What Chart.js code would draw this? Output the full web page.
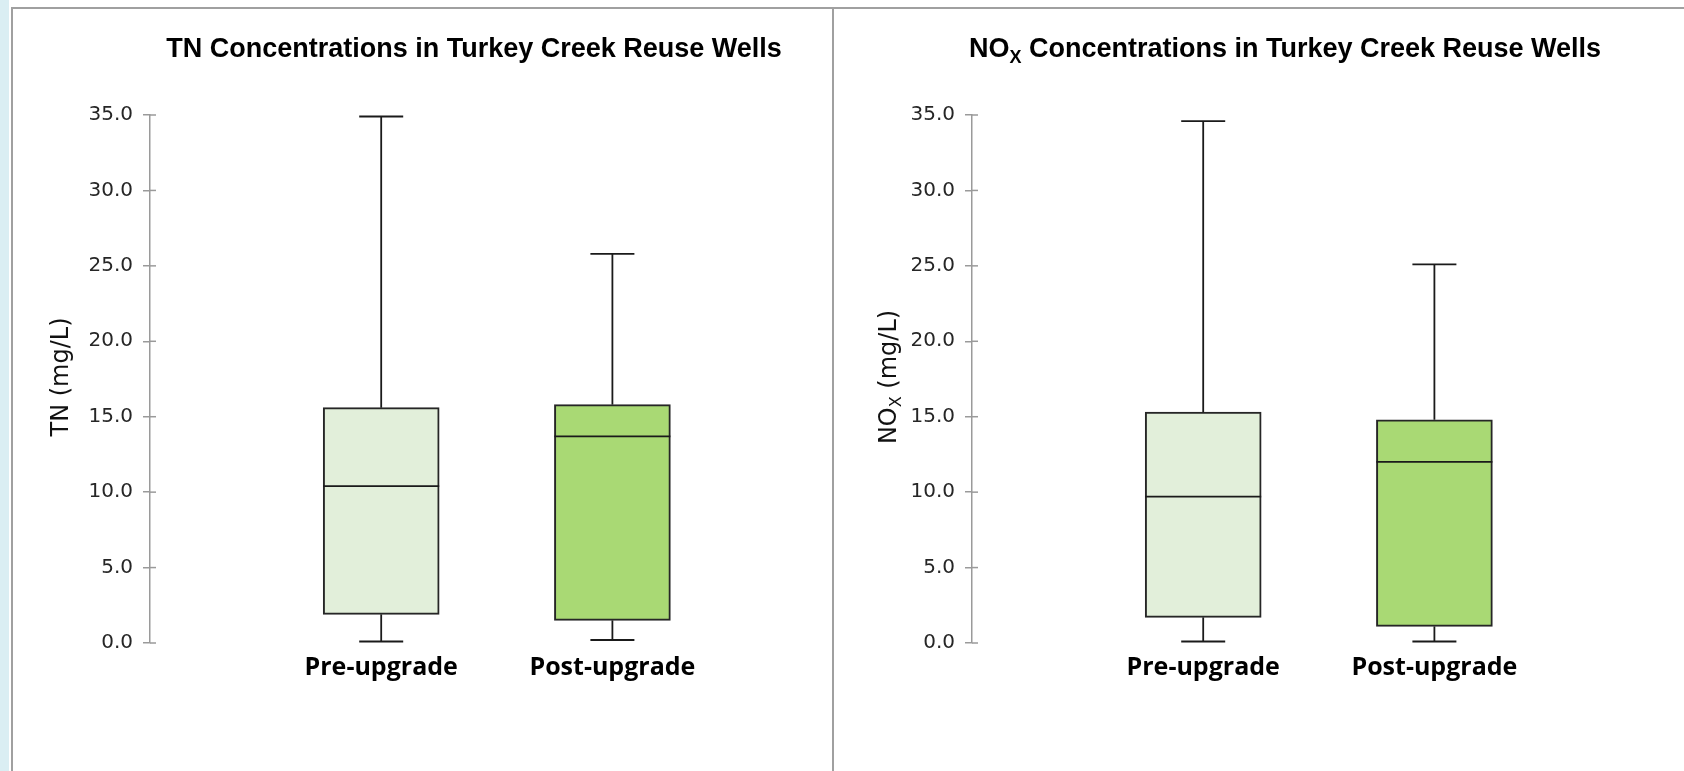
<!DOCTYPE html>
<html>
<head>
<meta charset="utf-8">
<script src="https://cdn.jsdelivr.net/npm/chart.js@4.4.0/dist/chart.umd.min.js"></script>
<style>
  html, body { margin: 0; padding: 0; background: #fff; }
  body { width: 1684px; height: 771px; position: relative; overflow: hidden; }
  #strip { position: absolute; left: 0; top: 0; width: 9px; height: 771px; background: #daeef3; }
  #frame { position: absolute; left: 11px; top: 7px; width: 1673px; height: 764px; border-top: 2px solid #a0a0a0; border-left: 2px solid #a0a0a0; }
  #divider { position: absolute; left: 832px; top: 7px; width: 2px; height: 764px; background: #a0a0a0; }
  .panel { position: absolute; top: 9px; height: 762px; }
  #leftPanel { left: 13px; width: 819px; }
  #rightPanel { left: 834px; width: 850px; }
</style>
</head>
<body>
<div id="strip"></div>
<div id="frame"></div>
<div id="divider"></div>
<div class="panel" id="leftPanel"><canvas id="tnChart"></canvas></div>
<div class="panel" id="rightPanel"><canvas id="noxChart"></canvas></div>

<script>
// categorias y marcas del eje
var categories = ['Pre-upgrade', 'Post-upgrade'];
var yTicks = [0, 5, 10, 15, 20, 25, 30, 35];

// TN (mg/L)
var tnMin = [0.1, 0.2];
var tnQ1 = [1.9, 1.5];
var tnMedian = [10.4, 13.7];
var tnQ3 = [15.6, 15.8];
var tnMax = [34.9, 25.8];

// NOx (mg/L)
var noxMin = [0.1, 0.1];
var noxQ1 = [1.7, 1.1];
var noxMedian = [9.7, 12.0];
var noxQ3 = [15.3, 14.8];
var noxMax = [34.6, 25.1];

var boxColors = ['#e2efda', '#a9d974'];
var axisColor = '#9a9a9a';

// dibuja texto con subindices, centrado en el origen actual
function drawParts(ctx, parts, size, family, weight) {
    var subSize = Math.round(size * 0.68);
    var widths = parts.map(function (p) {
        ctx.font = weight + ' ' + (p.sub ? subSize : size) + 'px ' + family;
        return ctx.measureText(p.text).width;
    });
    var x = -widths.reduce(function (a, b) { return a + b; }, 0) / 2;
    parts.forEach(function (p, i) {
        ctx.font = weight + ' ' + (p.sub ? subSize : size) + 'px ' + family;
        ctx.fillText(p.text, x, p.sub ? size * 0.22 : 0);
        x += widths[i];
    });
}

// bigotes, mediana y media marca interior del eje y
var boxPlugin = {
    id: 'boxExtras',
    afterDatasetsDraw: function (chart, args, o) {
        var ctx = chart.ctx, x = chart.scales.x, y = chart.scales.y;
        var s = o.stats;
        ctx.save();
        ctx.strokeStyle = '#1a1a1a';
        ctx.lineWidth = 1.8;
        categories.forEach(function (c, i) {
            var cx = x.getPixelForValue(i + 1);
            var half = o.boxWidth / 2, cap = o.capWidth / 2;
            var segs = [
                [cx - half, s.median[i], cx + half, s.median[i]],
                [cx, s.q3[i], cx, s.max[i]],
                [cx - cap, s.max[i], cx + cap, s.max[i]],
                [cx, s.q1[i], cx, s.min[i]],
                [cx - cap, s.min[i], cx + cap, s.min[i]]
            ];
            segs.forEach(function (g) {
                ctx.beginPath();
                ctx.moveTo(g[0], y.getPixelForValue(g[1]));
                ctx.lineTo(g[2], y.getPixelForValue(g[3]));
                ctx.stroke();
            });
        });
        ctx.strokeStyle = axisColor;
        ctx.lineWidth = 1.5;
        y.ticks.forEach(function (t) {
            var py = y.getPixelForValue(t.value);
            ctx.beginPath();
            ctx.moveTo(y.right, py);
            ctx.lineTo(y.right + 6, py);
            ctx.stroke();
        });
        ctx.restore();
    }
};

var textPlugin = {
    id: 'panelText',
    afterDraw: function (chart, args, o) {
        var ctx = chart.ctx;
        ctx.save();
        ctx.fillStyle = '#000';
        ctx.textAlign = 'left';
        ctx.textBaseline = 'alphabetic';
        ctx.translate(o.titleX, o.titleY);
        drawParts(ctx, o.title, 27, '"Liberation Sans", Arial, sans-serif', 'bold');
        ctx.restore();

        ctx.save();
        ctx.fillStyle = '#111';
        ctx.textAlign = 'left';
        ctx.textBaseline = 'alphabetic';
        ctx.translate(o.yTitleX, o.yTitleY);
        ctx.rotate(-Math.PI / 2);
        drawParts(ctx, o.yTitle, 24, '"DejaVu Sans", Verdana, sans-serif', 'normal');
        ctx.restore();
    }
};

function makeChart(id, stats, title, yTitle, pos) {
    var ctx = document.getElementById(id).getContext('2d');
    return new Chart(ctx, {
        type: 'bar',
        data: {
            datasets: [{
                data: categories.map(function (c, i) {
                    return { x: i + 1, y: [stats.q1[i], stats.q3[i]] };
                }),
                backgroundColor: boxColors,
                borderColor: '#262626',
                borderWidth: 2,
                borderSkipped: false,
                barThickness: 116
            }]
        },
        plugins: [boxPlugin, textPlugin],
        options: {
            responsive: true,
            maintainAspectRatio: false,
            animation: false,
            layout: { padding: { top: 106, bottom: 88, left: 0, right: pos.padRight } },
            scales: {
                x: {
                    type: 'linear',
                    min: 0,
                    max: 2.5,
                    offset: false,
                    grid: { display: false, drawTicks: false, offset: false },
                    border: { display: false },
                    afterBuildTicks: function (scale) {
                        scale.ticks = categories.map(function (c, i) { return { value: i + 1 }; });
                    },
                    afterFit: function (scale) { scale.height = 40; },
                    ticks: {
                        padding: 10,
                        color: '#000',
                        font: { family: '"Open Sans", sans-serif', size: 25, weight: 'bold' },
                        callback: function (value) { return categories[value - 1]; }
                    }
                },
                y: {
                    min: 0,
                    max: 35,
                    afterBuildTicks: function (scale) {
                        scale.ticks = yTicks.map(function (v) { return { value: v }; });
                    },
                    afterFit: function (scale) { scale.width = pos.axisLeft; },
                    grid: { drawOnChartArea: false, color: axisColor, lineWidth: 1.5, tickLength: 7 },
                    border: { color: axisColor, width: 1.5 },
                    ticks: {
                        padding: 10,
                        color: '#262626',
                        font: { family: '"DejaVu Sans", Verdana, sans-serif', size: 20 },
                        callback: function (value) { return value.toFixed(1); }
                    }
                }
            },
            plugins: {
                legend: { display: false },
                tooltip: { enabled: false },
                boxExtras: { stats: stats, boxWidth: 116, capWidth: 44 },
                panelText: {
                    title: title,
                    titleX: pos.titleX,
                    titleY: 48,
                    yTitle: yTitle,
                    yTitleX: pos.yTitleX,
                    yTitleY: 368
                }
            }
        }
    });
}

makeChart('tnChart',
    { min: tnMin, q1: tnQ1, median: tnMedian, q3: tnQ3, max: tnMax },
    [{ text: 'TN Concentrations in Turkey Creek Reuse Wells' }],
    [{ text: 'TN (mg/L)' }],
    { axisLeft: 137, padRight: 104, titleX: 461, yTitleX: 55 });

makeChart('noxChart',
    { min: noxMin, q1: noxQ1, median: noxMedian, q3: noxQ3, max: noxMax },
    [{ text: 'NO' }, { text: 'X', sub: true }, { text: ' Concentrations in Turkey Creek Reuse Wells' }],
    [{ text: 'NO' }, { text: 'X', sub: true }, { text: ' (mg/L)' }],
    { axisLeft: 138, padRight: 134, titleX: 451, yTitleX: 62 });
</script>
</body>
</html>
